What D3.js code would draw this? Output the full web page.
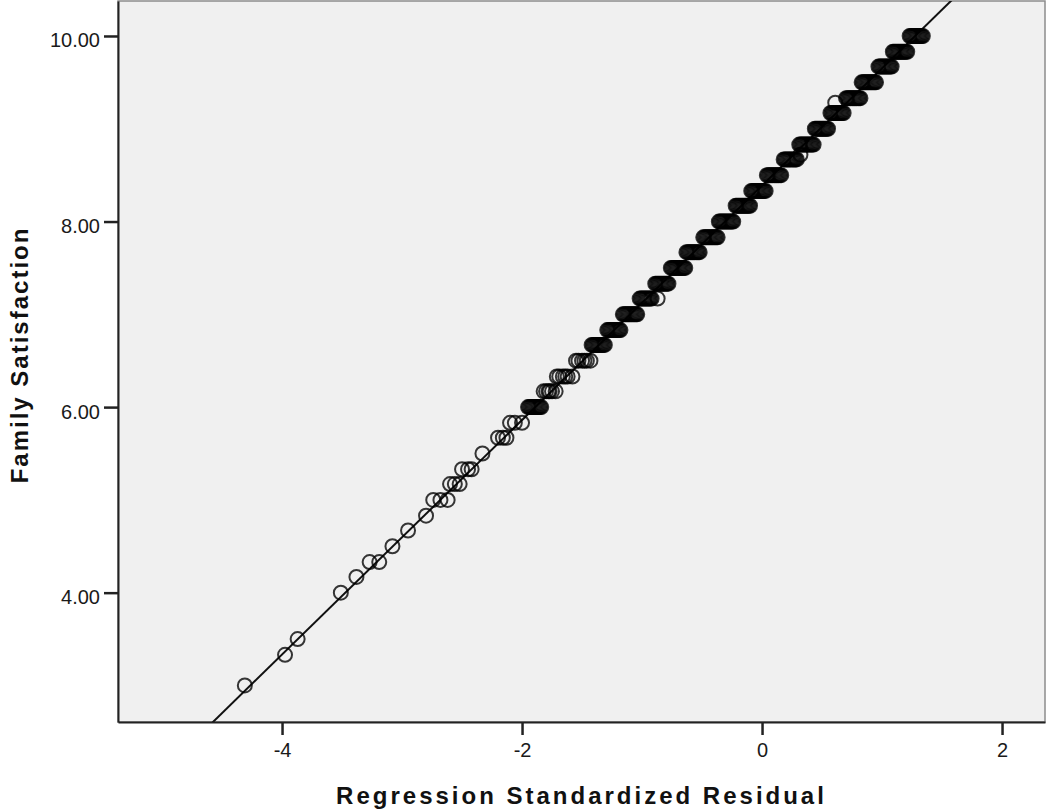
<!DOCTYPE html>
<html>
<head>
<meta charset="utf-8">
<script src="https://cdn.jsdelivr.net/npm/d3@7"></script>
<style>
body { margin: 0; background: #fff; }
text { font-family: "Liberation Sans", Arial, sans-serif; }
</style>
</head>
<body>
<svg id="chart"></svg>
<script>
// Family Satisfaction levels (y) and the standardized residuals of the cases at each level (x)
const levels = [3.00, 3.33, 3.50, 4.00, 4.17, 4.33, 4.50, 4.67, 4.83, 5.00, 5.17, 5.33, 5.50, 5.67, 5.83,
    6.00, 6.17, 6.33, 6.50, 6.67, 6.83, 7.00, 7.17, 7.33, 7.50, 7.67, 7.83, 8.00, 8.17, 8.33, 8.50,
    8.67, 8.72, 8.83, 9.00, 9.17, 9.28, 9.33, 9.50, 9.67, 9.83, 10.00];
const residuals = [
    [-4.31],
    [-3.975],
    [-3.87],
    [-3.51],
    [-3.38],
    [-3.27, -3.19],
    [-3.08],
    [-2.95],
    [-2.80],
    [-2.74, -2.68, -2.62],
    [-2.60, -2.56, -2.52],
    [-2.50, -2.45, -2.42],
    [-2.33],
    [-2.20, -2.16, -2.13],
    [-2.10, -2.06, -2.00],
    [-1.95, -1.94, -1.93, -1.92, -1.91, -1.90, -1.89, -1.88, -1.87, -1.86, -1.85, -1.84],
    [-1.82, -1.80, -1.78, -1.77, -1.75, -1.72],
    [-1.71, -1.69, -1.66, -1.64, -1.62, -1.58],
    [-1.55, -1.53, -1.50, -1.48, -1.46, -1.43],
    [-1.42, -1.41, -1.40, -1.39, -1.38, -1.37, -1.36, -1.35, -1.34, -1.33, -1.32, -1.31],
    [-1.29, -1.28, -1.27, -1.26, -1.25, -1.24, -1.23, -1.22, -1.21, -1.20, -1.19, -1.18],
    [-1.16, -1.15, -1.14, -1.13, -1.12, -1.11, -1.10, -1.09, -1.08, -1.07, -1.06, -1.05, -1.04],
    [-1.02, -1.01, -1.00, -0.99, -0.98, -0.97, -0.96, -0.95, -0.94, -0.93, -0.92, -0.87],
    [-0.89, -0.88, -0.87, -0.86, -0.85, -0.84, -0.83, -0.82, -0.81, -0.80, -0.79, -0.78],
    [-0.76, -0.75, -0.74, -0.73, -0.72, -0.71, -0.70, -0.69, -0.68, -0.67, -0.66, -0.65, -0.64],
    [-0.63, -0.62, -0.61, -0.60, -0.59, -0.58, -0.57, -0.56, -0.55, -0.54, -0.53, -0.52],
    [-0.49, -0.48, -0.47, -0.46, -0.45, -0.44, -0.43, -0.42, -0.41, -0.40, -0.39, -0.38, -0.37],
    [-0.36, -0.35, -0.34, -0.33, -0.32, -0.31, -0.30, -0.29, -0.28, -0.27, -0.26, -0.25, -0.24],
    [-0.22, -0.21, -0.20, -0.19, -0.18, -0.17, -0.16, -0.15, -0.14, -0.13, -0.12, -0.11, -0.10],
    [-0.09, -0.08, -0.07, -0.06, -0.05, -0.04, -0.03, -0.02, -0.01, 0.00, 0.01, 0.02, 0.03],
    [0.04, 0.05, 0.06, 0.07, 0.08, 0.09, 0.10, 0.11, 0.12, 0.13, 0.14, 0.15, 0.16],
    [0.18, 0.19, 0.20, 0.21, 0.22, 0.23, 0.24, 0.25, 0.26, 0.27, 0.28, 0.29],
    [0.32],
    [0.31, 0.32, 0.33, 0.34, 0.35, 0.36, 0.37, 0.38, 0.39, 0.40, 0.41, 0.42, 0.43],
    [0.44, 0.45, 0.46, 0.47, 0.48, 0.49, 0.50, 0.51, 0.52, 0.53, 0.54, 0.55],
    [0.57, 0.58, 0.59, 0.60, 0.61, 0.62, 0.63, 0.64, 0.65, 0.66, 0.67, 0.68],
    [0.61],
    [0.70, 0.71, 0.72, 0.73, 0.74, 0.75, 0.76, 0.77, 0.78, 0.79, 0.80, 0.81, 0.82],
    [0.83, 0.84, 0.85, 0.86, 0.87, 0.88, 0.89, 0.90, 0.91, 0.92, 0.93, 0.94, 0.95],
    [0.97, 0.98, 0.99, 1.00, 1.01, 1.02, 1.03, 1.04, 1.05, 1.06, 1.07, 1.08],
    [1.09, 1.10, 1.11, 1.12, 1.13, 1.14, 1.15, 1.16, 1.17, 1.18, 1.19, 1.20, 1.21],
    [1.23, 1.24, 1.25, 1.26, 1.27, 1.28, 1.29, 1.30, 1.31, 1.32, 1.33, 1.34]
];
const xTicks = [-4, -2, 0, 2];
const yTicks = [4, 6, 8, 10];
// fit line: satisfaction = intercept + slope * residual
const fitIntercept = 8.388;
const fitSlope = 1.2637;

const margin = {top: 1, right: 3, bottom: 88, left: 118},
    svgWidth = 1048,
    svgHeight = 810,
    width = svgWidth - margin.left - margin.right,
    height = svgHeight - margin.top - margin.bottom;

const points = [];
levels.forEach(function(lv, i) {
    residuals[i].forEach(function(r) { points.push({x: r, y: lv}); });
});

const chart = d3.select('#chart')
    .attr("width", svgWidth)
    .attr("height", svgHeight);
const g = chart.append("g")
    .attr("transform", `translate(${margin.left},${margin.top})`);

var xScale = d3.scaleLinear().domain([-5.367, 2.358]).range([0, width]);
var yScale = d3.scaleLinear().domain([2.606, 10.377]).range([height, 0]);

// plot background + light frame on top/right
g.append("rect")
    .attr("width", width).attr("height", height)
    .attr("fill", "#f0f0f0")
    .attr("stroke", "#8c8c8c")
    .attr("stroke-width", 1.5);

g.append("clipPath").attr("id", "plotclip")
    .append("rect").attr("width", width).attr("height", height);

// fit line
var xd = xScale.domain();
g.append("line")
    .attr("clip-path", "url(#plotclip)")
    .attr("x1", xScale(xd[0])).attr("y1", yScale(fitIntercept + fitSlope * xd[0]))
    .attr("x2", xScale(xd[1])).attr("y2", yScale(fitIntercept + fitSlope * xd[1]))
    .attr("stroke", "#111")
    .attr("stroke-width", 2);

g.append("g").attr("clip-path", "url(#plotclip)")
    .selectAll("circle")
    .data(points)
    .enter().append("circle")
    .attr("cx", d => xScale(d.x))
    .attr("cy", d => yScale(d.y))
    .attr("r", 7)
    .attr("fill", "none")
    .attr("stroke", "#000")
    .attr("stroke-opacity", 0.78)
    .attr("stroke-width", 2);

// axes (plain hyphen minus like the original)
var xAxis = d3.axisBottom(xScale).tickValues(xTicks).tickFormat(d => String(d))
    .tickSize(13).tickSizeOuter(0).tickPadding(8);
var yAxis = d3.axisLeft(yScale).tickValues(yTicks).tickFormat(d => d.toFixed(2))
    .tickSize(14).tickSizeOuter(0).tickPadding(4);

var gx = g.append("g").attr("transform", `translate(0,${height})`).call(xAxis);
var gy = g.append("g").call(yAxis);

[gx, gy].forEach(function(ax) {
    ax.select(".domain").attr("stroke", "#222").attr("stroke-width", 2);
    ax.selectAll(".tick line").attr("stroke", "#222").attr("stroke-width", 2.5);
    ax.selectAll(".tick text")
        .attr("fill", "#1a1a1a")
        .style("font-size", "20px")
        .style("font-family", '"Liberation Sans", Arial, sans-serif');
});
gy.selectAll(".tick text").attr("dy", "0.55em");
gx.selectAll(".tick text").attr("dy", "0.71em");

// axis titles
chart.append("text")
    .attr("x", margin.left + width / 2)
    .attr("y", 804)
    .attr("text-anchor", "middle")
    .style("font-size", "24px")
    .style("font-weight", "bold")
    .style("letter-spacing", "3px")
    .attr("fill", "#111")
    .text("Regression Standardized Residual");

chart.append("text")
    .attr("transform", "translate(28,355) rotate(-90)")
    .attr("text-anchor", "middle")
    .style("font-size", "24px")
    .style("font-weight", "bold")
    .style("letter-spacing", "2px")
    .attr("fill", "#111")
    .text("Family Satisfaction");
</script>
</body>
</html>
